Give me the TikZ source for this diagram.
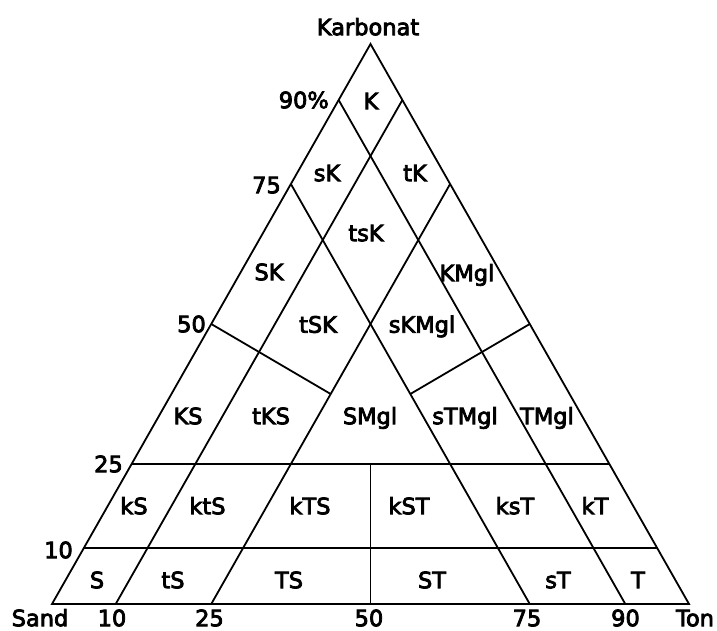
\documentclass[tikz,border=0pt]{standalone}
\usepackage{fontspec}
\newfontfamily\labfont{DejaVu Sans}[FakeBold=3.5]
\begin{document}
\begin{tikzpicture}[x=1pt,y=-1pt,
  edge/.style={line width=1.8pt, line join=miter},
  lab/.style={font=\labfont\fontsize{22.5}{27}\selectfont, inner sep=0pt, text height=16.4pt, text depth=0pt},
  ]
\useasboundingbox (0,0) rectangle (717,631);
% corners
\coordinate (A) at (370.5,44);
\coordinate (L) at (52,604);
\coordinate (R) at (689,604);
% edge points
\coordinate (l10) at (barycentric cs:A=0.1,L=0.9);
\coordinate (r10) at (barycentric cs:A=0.1,R=0.9);
\coordinate (l25) at (barycentric cs:A=0.25,L=0.75);
\coordinate (r25) at (barycentric cs:A=0.25,R=0.75);
\coordinate (l50) at (barycentric cs:A=0.5,L=0.5);
\coordinate (r50) at (barycentric cs:A=0.5,R=0.5);
\coordinate (sTop10) at (barycentric cs:A=0.9,L=0.1);
\coordinate (sTop25) at (barycentric cs:A=0.75,L=0.25);
\coordinate (tTop10) at (barycentric cs:A=0.9,R=0.1);
\coordinate (tTop25) at (barycentric cs:A=0.75,R=0.25);
\coordinate (b10) at (barycentric cs:L=0.9,R=0.1);
\coordinate (b25) at (barycentric cs:L=0.75,R=0.25);
\coordinate (b50) at (barycentric cs:L=0.5,R=0.5);
\coordinate (b75) at (barycentric cs:L=0.25,R=0.75);
\coordinate (b90) at (barycentric cs:L=0.1,R=0.9);
% inner points
\coordinate (ks) at (barycentric cs:A=0.375,L=0.375,R=0.25);
\coordinate (kt) at (barycentric cs:A=0.375,L=0.25,R=0.375);
\coordinate (m25) at (barycentric cs:A=0.25,L=0.375,R=0.375);

% outline and dividers
\draw[edge] (A) -- (L) -- (R) -- cycle;
\draw[edge] (b10) -- (tTop10);
\draw[edge] (b25) -- (tTop25);
\draw[edge] (b75) -- (sTop25);
\draw[edge] (b90) -- (sTop10);
\draw[edge] (l10) -- (r10);
\draw[edge] (l25) -- (r25);
\draw[edge] (b50) -- (m25);
\draw[edge] (l50) -- (ks);
\draw[edge] (r50) -- (kt);

% corner names
\node[lab] (nKarb) at (368,27) {Karbonat};
\node[lab] (nSand) at (40,618) {Sand};
\node[lab] (nTon) at (695,618) {Ton};

% scale along the left edge
\node[lab, anchor=east] (s90) at (329,100) {90\%};
\node[lab, anchor=east] (s75) at (281,185) {75};
\node[lab, anchor=east] (s50) at (206,324) {50};
\node[lab, anchor=east] (s25) at (123,464) {25};
\node[lab, anchor=east] (s10) at (73,550) {10};

% scale along the bottom
\node[lab] (c10) at (112,618) {10};
\node[lab] (c25) at (209.5,618) {25};
\node[lab] (c50) at (369,618) {50};
\node[lab] (c75) at (527,618) {75};
\node[lab] (c90) at (625.5,618) {90};

% fields
\node[lab] (fK) at (371,101) {K};
\node[lab] (fsK) at (327,173) {sK};
\node[lab] (ftK) at (415,173) {tK};
\node[lab] (ftsK) at (366,233) {tsK};
\node[lab] (fSK) at (269,272) {SK};
\node[lab] (fKMgl) at (467,273) {KMgl};
\node[lab] (ftSK) at (318,324.5) {tSK};
\node[lab] (fsKMgl) at (422,324.5) {sKMgl};
\node[lab] (fKS) at (188,416) {KS};
\node[lab] (ftKS) at (271,416) {tKS};
\node[lab] (fSMgl) at (370,416) {SMgl};
\node[lab] (fsTMgl) at (465,416) {sTMgl};
\node[lab] (fTMgl) at (547,416) {TMgl};
\node[lab] (fkS) at (134,506) {kS};
\node[lab] (fktS) at (207.5,506) {ktS};
\node[lab] (fkTS) at (310,506) {kTS};
\node[lab] (fkST) at (409,506) {kST};
\node[lab] (fksT) at (515,506) {ksT};
\node[lab] (fkT) at (595,506) {kT};
\node[lab] (fS) at (97,580) {S};
\node[lab] (ftS) at (173,580) {tS};
\node[lab] (fTS) at (289,580) {TS};
\node[lab] (fST) at (432,580) {ST};
\node[lab] (fsT) at (558,580) {sT};
\node[lab] (fT) at (638,580) {T};
\end{tikzpicture}
\end{document}
